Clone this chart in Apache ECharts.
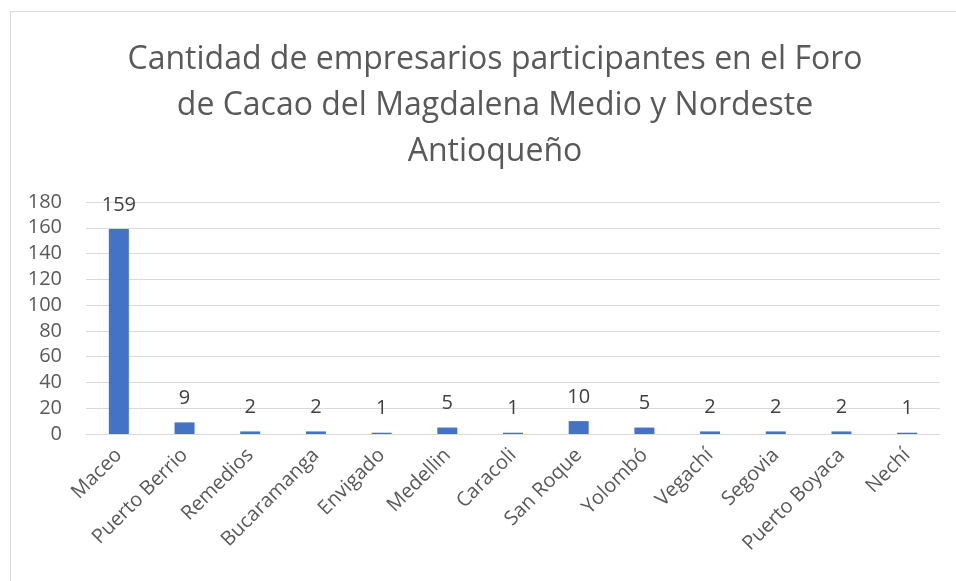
<!DOCTYPE html>
<html>
<head>
<meta charset="utf-8">
<script src="https://cdn.jsdelivr.net/npm/echarts@6/dist/echarts.min.js"></script>
<style>
  html, body { margin: 0; padding: 0; background: #fff; }
  #frame {
    position: absolute; left: 10px; top: 11px; width: 960px; height: 580px;
    border-top: 1px solid #d9d9d9; border-left: 1px solid #d9d9d9;
  }
  #chart { position: absolute; left: 0; top: 0; width: 956px; height: 581px; }
</style>
</head>
<body>
<div id="frame"></div>
<div id="chart"></div>
<script>
// datos
const categories = ['Maceo', 'Puerto Berrio', 'Remedios', 'Bucaramanga', 'Envigado', 'Medellin',
  'Caracoli', 'San Roque', 'Yolombó', 'Vegachí', 'Segovia', 'Puerto Boyaca', 'Nechí'];
const empresarios = [159, 9, 2, 2, 1, 5, 1, 10, 5, 2, 2, 2, 1];
const yTicks = [0, 20, 40, 60, 80, 100, 120, 140, 160, 180];

const font = '"Open Sans", "Noto Sans", sans-serif';
let myChart = echarts.init(document.getElementById('chart'));

let option = {
  title: {
    text: 'Cantidad de empresarios participantes en el Foro\nde Cacao del Magdalena Medio y Nordeste\nAntioqueño',
    left: 490,
    textAlign: 'center',
    top: 32,
    textStyle: {
      fontFamily: font,
      fontSize: 32,
      fontWeight: 'normal',
      color: '#595959',
      lineHeight: 46
    }
  },
  grid: {
    left: 86,
    right: 16,
    top: 202,
    height: 232
  },
  xAxis: {
    type: 'category',
    data: categories,
    axisTick: { show: false },
    axisLine: { lineStyle: { color: '#d9d9d9', width: 1 } },
    axisLabel: {
      rotate: 45,
      interval: 0,
      margin: 18,
      color: '#595959',
      fontFamily: font,
      fontSize: 20
    }
  },
  yAxis: {
    type: 'value',
    min: yTicks[0],
    max: yTicks[yTicks.length - 1],
    interval: 20,
    axisLine: { show: false },
    axisTick: { show: false },
    splitLine: { lineStyle: { color: '#d9d9d9', width: 1 } },
    axisLabel: {
      margin: 24,
      color: '#595959',
      fontFamily: font,
      fontSize: 20
    }
  },
  series: [
    {
      type: 'bar',
      data: empresarios,
      barWidth: 20,
      itemStyle: { color: '#4472C4' },
      label: {
        show: true,
        position: 'top',
        distance: 14,
        color: '#404040',
        fontFamily: font,
        fontSize: 20
      }
    }
  ]
};

myChart.setOption(option);
</script>
</body>
</html>
